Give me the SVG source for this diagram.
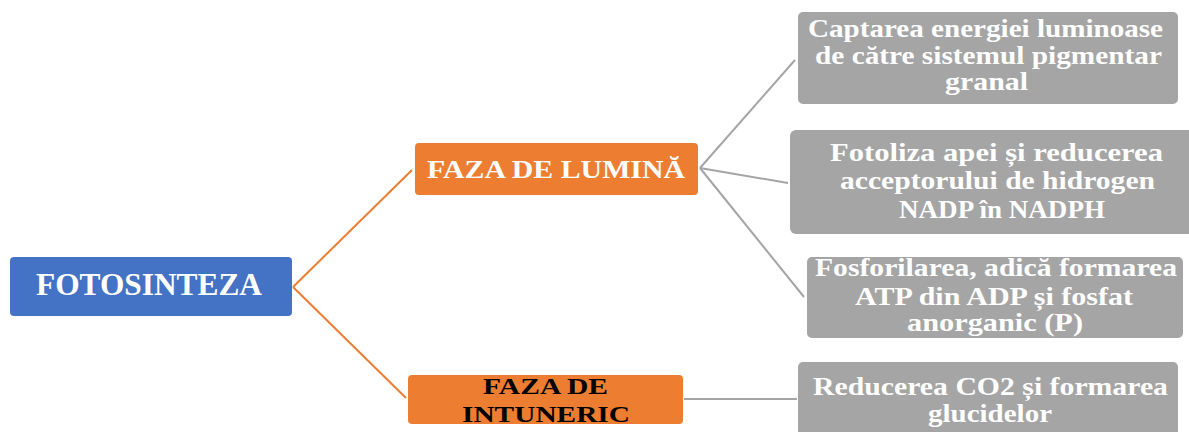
<svg xmlns="http://www.w3.org/2000/svg" width="1189" height="432" viewBox="0 0 1189 432">
  <style>
    .lbl { font-family: "Liberation Serif", "Times New Roman", serif; font-weight: bold; text-anchor: middle; }
    .white { fill: #ffffff; }
    .dark { fill: #000000; }
    .blue { fill: #4472C4; }
    .orange { fill: #ED7D31; }
    .gray { fill: #A5A5A5; }
    .c-orange { stroke: #ED7D31; stroke-width: 2; fill: none; }
    .c-gray { stroke: #A5A5A5; stroke-width: 2; fill: none; }
  </style>
  <rect width="1189" height="432" fill="#ffffff"/>

  <g id="connectors">
    <line class="c-orange" x1="293" y1="287" x2="412" y2="170"/>
    <line class="c-orange" x1="293" y1="287" x2="406" y2="398"/>
    <line class="c-gray" x1="700" y1="168" x2="795" y2="60"/>
    <line class="c-gray" x1="700" y1="168" x2="788" y2="183"/>
    <line class="c-gray" x1="700" y1="168" x2="804" y2="297"/>
    <line class="c-gray" x1="684" y1="399" x2="797" y2="399"/>
  </g>

  <g id="fotosinteza">
    <rect class="blue" x="10" y="257" width="282" height="59" rx="4"/>
    <text class="lbl white" x="149" y="295" font-size="32" textLength="226" lengthAdjust="spacingAndGlyphs">FOTOSINTEZA</text>
  </g>

  <g id="faza-lumina">
    <rect class="orange" x="415" y="143" width="283" height="52" rx="4"/>
    <text class="lbl white" x="556" y="178" font-size="26" textLength="258" lengthAdjust="spacingAndGlyphs">FAZA DE LUMINĂ</text>
  </g>

  <g id="faza-intuneric">
    <rect class="orange" x="408" y="375" width="275" height="49" rx="4"/>
    <text class="lbl dark" x="545.5" y="394" font-size="24" textLength="125" lengthAdjust="spacingAndGlyphs">FAZA DE</text>
    <text class="lbl dark" x="546" y="422" font-size="24" textLength="168" lengthAdjust="spacingAndGlyphs">INTUNERIC</text>
  </g>

  <g id="captarea">
    <rect class="gray" x="798" y="12" width="380" height="92" rx="5"/>
    <text class="lbl white" x="985.5" y="37" font-size="25" textLength="355" lengthAdjust="spacingAndGlyphs">Captarea energiei luminoase</text>
    <text class="lbl white" x="988.5" y="64" font-size="25" textLength="347" lengthAdjust="spacingAndGlyphs">de către sistemul pigmentar</text>
    <text class="lbl white" x="986.5" y="90" font-size="25" textLength="83" lengthAdjust="spacingAndGlyphs">granal</text>
  </g>

  <g id="fotoliza">
    <rect class="gray" x="790" y="130" width="410" height="104" rx="6"/>
    <text class="lbl white" x="996.5" y="161" font-size="25" textLength="333" lengthAdjust="spacingAndGlyphs">Fotoliza apei și reducerea</text>
    <text class="lbl white" x="997.5" y="189" font-size="25" textLength="315" lengthAdjust="spacingAndGlyphs">acceptorului de hidrogen</text>
    <text class="lbl white" x="1002" y="218" font-size="25" textLength="206" lengthAdjust="spacingAndGlyphs">NADP în NADPH</text>
  </g>

  <g id="fosforilarea">
    <rect class="gray" x="807" y="257" width="376" height="81" rx="5"/>
    <text class="lbl white" x="996" y="276" font-size="25" textLength="362" lengthAdjust="spacingAndGlyphs">Fosforilarea, adică formarea</text>
    <text class="lbl white" x="994" y="305" font-size="25" textLength="278" lengthAdjust="spacingAndGlyphs">ATP din ADP și fosfat</text>
    <text class="lbl white" x="995" y="331" font-size="25" textLength="176" lengthAdjust="spacingAndGlyphs">anorganic (P)</text>
  </g>

  <g id="reducerea">
    <rect class="gray" x="798" y="362" width="380" height="80" rx="5"/>
    <text class="lbl white" x="990.5" y="395" font-size="25" textLength="355" lengthAdjust="spacingAndGlyphs">Reducerea CO2 și formarea</text>
    <text class="lbl white" x="990" y="422" font-size="25" textLength="124" lengthAdjust="spacingAndGlyphs">glucidelor</text>
  </g>
</svg>
